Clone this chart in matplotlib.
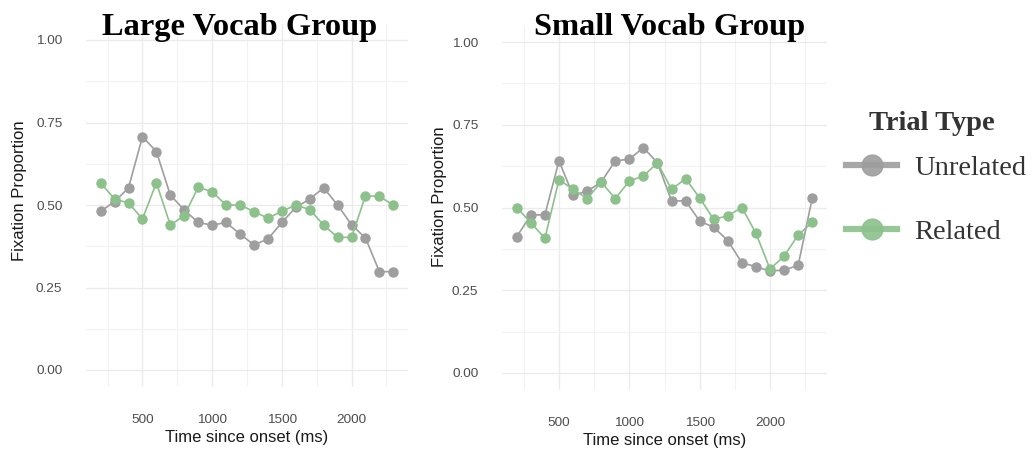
import matplotlib
matplotlib.use("Agg")
import matplotlib.pyplot as plt
from matplotlib.lines import Line2D

# time bins (ms)
time_ms = [200, 300, 400, 500, 600, 700, 800, 900, 1000, 1100, 1200,
           1300, 1400, 1500, 1600, 1700, 1800, 1900, 2000, 2100, 2200, 2300]

# Large vocab group
large_unrel = [0.481, 0.510, 0.552, 0.707, 0.662, 0.530, 0.485, 0.447, 0.439, 0.447, 0.412,
               0.379, 0.397, 0.447, 0.493, 0.518, 0.552, 0.500, 0.440, 0.400, 0.298, 0.298]
large_rel = [0.567, 0.518, 0.506, 0.458, 0.567, 0.439, 0.468, 0.554, 0.540, 0.500, 0.500,
             0.480, 0.460, 0.481, 0.500, 0.486, 0.439, 0.402, 0.402, 0.528, 0.526, 0.500]

# Small vocab group
small_unrel = [0.412, 0.477, 0.478, 0.641, 0.537, 0.549, 0.577, 0.641, 0.646, 0.681, 0.635,
               0.520, 0.520, 0.459, 0.440, 0.400, 0.333, 0.321, 0.308, 0.311, 0.325, 0.528]
small_rel = [0.500, 0.454, 0.407, 0.584, 0.555, 0.527, 0.577, 0.527, 0.580, 0.595, 0.635,
             0.555, 0.587, 0.529, 0.464, 0.475, 0.500, 0.422, 0.314, 0.353, 0.417, 0.455]

titles = ["Large Vocab Group", "Small Vocab Group"]
series_names = ["Unrelated", "Related"]
legend_title = "Trial Type"
gray = "#9e9e9e"
green = "#8cc18c"

plt.rcParams['font.family'] = ['Liberation Sans', 'DejaVu Sans']

fig = plt.figure(figsize=(10.32, 4.5), dpi=100)
ax1 = fig.add_axes([86/1032, 1-386.5/450, 322/1032, 363/450])
ax2 = fig.add_axes([502/1032, 1-389.5/450, 325/1032, 364/450])

panels = [(ax1, large_unrel, large_rel, titles[0], (240, 27)),
          (ax2, small_unrel, small_rel, titles[1], (670, 27))]

for ax, unrel, rel, title, tpos in panels:
    ax.plot(time_ms, unrel, color=gray, lw=1.2, marker='o', ms=6.5, mec=gray, zorder=3)
    ax.plot(time_ms, rel, color=green, lw=1.2, marker='o', ms=6.5, mec=green, zorder=4)
    ax.set_xlim(95, 2405)
    ax.set_ylim(-0.05, 1.05)
    ax.set_xticks([500, 1000, 1500, 2000])
    ax.set_yticks([0, 0.25, 0.5, 0.75, 1.0])
    ax.set_yticklabels(["0.00", "0.25", "0.50", "0.75", "1.00"])
    ax.set_xticks([250, 750, 1250, 1750, 2250], minor=True)
    ax.set_yticks([0.125, 0.375, 0.625, 0.875], minor=True)
    ax.grid(which='major', color='#ebebeb', lw=1.0)
    ax.grid(which='minor', color='#f2f2f2', lw=0.8)
    ax.set_axisbelow(True)
    for s in ax.spines.values():
        s.set_visible(False)
    ax.tick_params(which='both', length=0, labelsize=9.7, labelcolor='#4d4d4d')
    ax.tick_params(axis='x', pad=20)
    ax.tick_params(axis='y', pad=17)
    ax.set_xlabel("Time since onset (ms)", fontsize=12, color='#1a1a1a', labelpad=3)
    ax.set_ylabel("Fixation Proportion", fontsize=12, color='#1a1a1a')
    fig.text(tpos[0]/1032, 1-tpos[1]/450, title, ha='center', va='center',
             fontsize=23.3, fontweight='bold', family='Liberation Serif')

ax1.yaxis.set_label_coords(-0.183, 0.54)
ax2.yaxis.set_label_coords(-0.169, 0.53)

# legend (title placed separately to control the gap)
fig.text(932/1032, 1-123/450, legend_title, ha='center', va='center', color='#333333',
         fontsize=20.5, fontweight='bold', family='Liberation Serif')
handles = [Line2D([], [], color=gray, lw=4.5, marker='o', ms=15, alpha=0.9),
           Line2D([], [], color=green, lw=4.5, marker='o', ms=15, alpha=0.9)]
leg = fig.legend(handles, series_names, loc='upper left', bbox_to_anchor=(846/1032, 1-155/450),
                 frameon=False, handlelength=1.8, handletextpad=0.6,
                 labelspacing=1.35, borderpad=0, borderaxespad=0,
                 prop={'family': 'Liberation Serif', 'size': 20.5})
for t in leg.get_texts():
    t.set_color('#333333')

fig.savefig("out.png", dpi=100)
